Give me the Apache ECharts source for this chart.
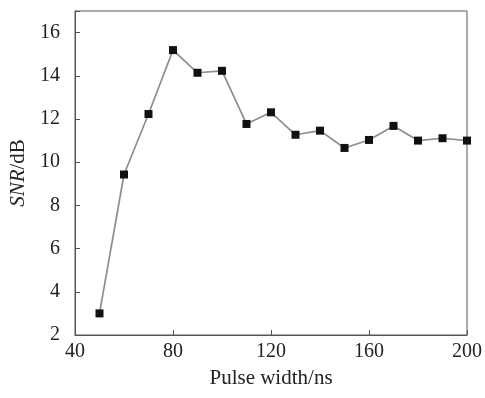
<!DOCTYPE html>
<html>
<head>
<meta charset="utf-8">
<script src="https://cdn.jsdelivr.net/npm/echarts@6/dist/echarts.min.js"></script>
<style>
  html, body { margin: 0; padding: 0; background: #fff; }
  #chart { width: 485px; height: 398px; }
</style>
</head>
<body>
<div id="chart"></div>
<script>
// pulse width (ns) and measured SNR (dB)
const pulseWidth = [50, 60, 70, 80, 90, 100, 110, 120, 130, 140, 150, 160, 170, 180, 190, 200]
const snr = [3.0, 9.43, 12.23, 15.19, 14.14, 14.23, 11.77, 12.31, 11.27, 11.46, 10.66, 11.03, 11.68, 11.0, 11.11, 11.0]

const font = 'Liberation Serif'
const axisColor = '#555'

const chart = echarts.init(document.getElementById('chart'))
chart.setOption({
  animation: false,
  grid: {
    left: 75, right: 16, top: 11, bottom: 63,
    show: true, borderColor: axisColor, borderWidth: 1
  },
  xAxis: {
    type: 'value',
    min: 40, max: 200, interval: 40,
    name: 'Pulse width/ns',
    nameLocation: 'middle',
    nameGap: 33,
    nameTextStyle: { fontFamily: font, fontSize: 21, color: '#222' },
    axisLine: { lineStyle: { color: axisColor, width: 1 } },
    axisTick: { inside: true, length: 5, lineStyle: { color: axisColor } },
    axisLabel: { fontFamily: font, fontSize: 20, color: '#222', margin: 7 },
    splitLine: { show: false }
  },
  yAxis: {
    type: 'value',
    min: 2, max: 17, interval: 2,
    name: '{i|SNR}/dB',
    nameLocation: 'middle',
    nameGap: 44,
    nameTextStyle: {
      fontFamily: font, fontSize: 21, color: '#222',
      rich: { i: { fontFamily: font, fontSize: 21, fontStyle: 'italic', color: '#222' } }
    },
    axisLine: { show: true, lineStyle: { color: axisColor, width: 1 } },
    axisTick: { show: true, inside: true, length: 5, lineStyle: { color: axisColor } },
    axisLabel: {
      fontFamily: font, fontSize: 20, color: '#222', margin: 15,
      formatter: v => (v % 2 === 0 ? v : '')
    },
    splitLine: { show: false }
  },
  series: [{
    type: 'line',
    data: pulseWidth.map((x, i) => [x, snr[i]]),
    symbol: 'rect',
    symbolSize: 8,
    itemStyle: { color: '#111' },
    lineStyle: { color: '#8c8c98', width: 1.7 }
  }]
})
</script>
</body>
</html>
